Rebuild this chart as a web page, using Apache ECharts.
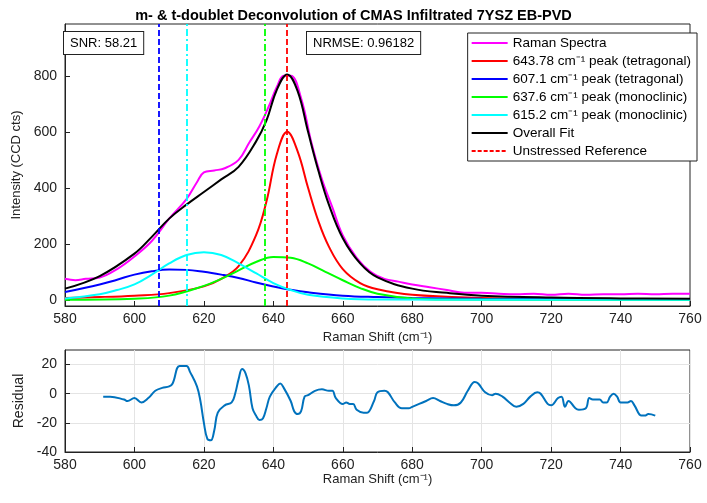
<!DOCTYPE html>
<html>
<head>
<meta charset="utf-8">
<script src="https://cdn.jsdelivr.net/npm/echarts@6/dist/echarts.min.js"></script>
<style>
  * { margin: 0; padding: 0 }
  html, body { width: 100%; height: 100%; background: #fff; }
  #main { width: 707px; height: 503px; }
</style>
</head>
<body>
<div id="main"></div>
<script type="text/javascript">
    // curves as [shift, value]
    var raman = [[580,75],[583,70],[586,75],[590,80],[595,110],[600,155],[605,210],[610,290],[615,360],[618,420],[620,455],[623,462],[626,470],[630,500],[633,560],[636,620],[639,700],[641,760],[643,800],[645,800],[648,720],[651,560],[654,430],[657,330],[660,230],[664,150],[668,100],[672,75],[676,65],[680,55],[685,45],[690,35],[695,25],[700,25],[705,22],[710,20],[715,22],[720,18],[725,22],[730,18],[735,20],[740,20],[745,22],[750,20],[755,22],[760,22]];
    var peakT644 = [[580,7],[590,10],[600,15],[610,24],[620,48],[625,75],[630,120],[635,230],[638,350],[641,520],[644,600],[647,530],[650,400],[653,280],[656,190],[660,110],[665,60],[670,38],[680,18],[700,7],[720,4],[760,2]];
    var peakT607 = [[580,28],[590,55],[595,72],[600,90],[605,102],[610,108],[615,107],[620,100],[625,90],[630,78],[635,62],[640,48],[645,36],[650,27],[660,15],[670,10],[680,7],[700,4],[720,3],[760,1]];
    var peakM638 = [[580,0],[600,4],[610,15],[620,50],[625,75],[630,105],[635,135],[640,153],[645,150],[650,130],[655,100],[660,70],[665,42],[670,22],[680,5],[690,1],[760,0]];
    var peakM615 = [[580,5],[590,20],[595,35],[600,55],[605,90],[610,130],[615,160],[620,170],[625,160],[630,130],[635,95],[640,60],[645,35],[650,18],[660,5],[670,1],[760,0]];
    var overallFit = [[580,40],[590,85],[600,165],[605,225],[610,290],[615,340],[620,385],[625,430],[630,475],[635,565],[638,640],[641,750],[644,805],[647,745],[650,600],[653,460],[656,340],[660,220],[665,130],[670,80],[680,40],[690,25],[700,15],[720,8],[740,5],[760,4]];
    var residual = [[591,-2],[593,-2],[597,-4],[598,-5],[600,-3],[602,-6],[604,-3],[606,2],[608,4],[610,5],[611,7],[613,19],[615,19],[616,15],[618,5],[619,-5],[620,-20],[621,-31],[622,-32],[623,-25],[624,-13],[626,-8],[628,-6],[629,0],[630,10],[631,17],[632,14],[633,5],[634,-10],[635,-15],[636,-18],[637,-17],[638,-10],[639,-2],[641,5],[642,7],[643,4],[645,-5],[646,-12],[647,-14],[648,-12],[649,-2],[650,-1],[652,2],[654,3],[656,2],[657,2],[658,-3],[660,-7],[661,-6],[662,-7],[663,-7],[664,-11],[666,-13],[667,-13],[669,-5],[670,1],[672,2],[673,1],[675,-6],[677,-10],[679,-10],[680,-9],[682,-7],[684,-5],[686,-3],[688,-5],[690,-7],[692,-8],[694,-6],[696,2],[698,8],[699,7],[701,1],[703,-1],[704,0],[706,-2],[708,-6],[710,-9],[712,-7],[714,-2],[716,1],[717,0],[719,-7],[720,-8],[722,-3],[723,-2],[724,-9],[725,-5],[727,-10],[728,-11],[730,-10],[731,-3],[732,-4],[734,-4],[735,-6],[736,-6],[737,-2],[738,0],[739,-2],[740,-6],[742,-6],[743,-5],[744,-8],[746,-15],[747,-15],[748,-14],[750,-15]];
    var xTicks = [580, 600, 620, 640, 660, 680, 700, 720, 740, 760];
    var yTicksTop = [0, 200, 400, 600, 800];
    var yTicksRes = [-40, -20, 0, 20];
    var peakPositions = [607.1, 615.2, 637.6, 643.78];

    var font = 'Liberation Sans, Arial, sans-serif';

    function xAxisOf(gi) {
        return {
            type: 'value', gridIndex: gi, min: 580, max: 760,
            name: 'Raman Shift (cm⁻¹)', nameLocation: 'middle', nameGap: 20,
            nameTextStyle: {fontFamily: font, fontSize: 13, color: '#222'},
            axisLine: {onZero: false, lineStyle: {color: '#222'}},
            axisTick: {inside: true, customValues: xTicks, length: 5},
            axisLabel: {customValues: xTicks, fontFamily: font, fontSize: 14, color: '#222', margin: 6},
            splitLine: {show: gi === 1, lineStyle: {color: '#e4e4e4'}}
        };
    }

    function vline(x, color, type) {
        return {
            type: 'line', xAxisIndex: 0, yAxisIndex: 0, data: [], silent: true,
            markLine: {symbol: 'none', silent: true, label: {show: false},
                lineStyle: {color: color, type: type, width: 1.8},
                data: [{xAxis: x}]}
        };
    }

    function curve(name, data, color) {
        return {
            name: name, type: 'line', data: data, smooth: 0.4, symbol: 'none',
            xAxisIndex: 0, yAxisIndex: 0,
            lineStyle: {color: color, width: 2}, itemStyle: {color: color}
        };
    }

    var chart = echarts.init(document.getElementById('main'));
    var dashDot = [7, 3, 2, 3];
    var series = [
        vline(peakPositions[0], '#0000ff', [6, 3]),
        vline(peakPositions[1], '#00ffff', dashDot),
        vline(peakPositions[2], '#00ff00', dashDot),
        curve('Raman Spectra', raman, '#ff00ff'),
        curve('643.78 cm⁻¹ peak (tetragonal)', peakT644, '#ff0000'),
        curve('607.1 cm⁻¹ peak (tetragonal)', peakT607, '#0000ff'),
        curve('637.6 cm⁻¹ peak (monoclinic)', peakM638, '#00ff00'),
        curve('615.2 cm⁻¹ peak (monoclinic)', peakM615, '#00ffff'),
        curve('Overall Fit', overallFit, '#000000'),
        {
            name: 'Unstressed Reference', type: 'line', data: [], symbol: 'none',
            xAxisIndex: 0, yAxisIndex: 0,
            lineStyle: {color: '#ff0000', type: [4, 2], width: 2}, itemStyle: {color: '#ff0000'},
            markLine: {symbol: 'none', silent: true, label: {show: false},
                lineStyle: {color: '#ff0000', type: [6, 3], width: 1.8},
                data: [{xAxis: peakPositions[3]}]}
        },
        {
            type: 'line', data: residual, smooth: 0.4, symbol: 'none',
            xAxisIndex: 1, yAxisIndex: 1,
            lineStyle: {color: '#0072bd', width: 2}
        }
    ];

    chart.setOption({
        animation: false,
        title: {
            text: 'm- & t-doublet Deconvolution of CMAS Infiltrated 7YSZ EB-PVD',
            left: 'center', top: 3,
            textStyle: {fontFamily: font, fontSize: 14.5, fontWeight: 'bold', color: '#000'}
        },
        grid: [
            {left: 65, right: 17, top: 24, height: 282, show: true, borderColor: '#222', borderWidth: 1},
            {left: 65, right: 17, top: 350, height: 102, show: true, borderColor: '#222', borderWidth: 1}
        ],
        legend: {
            right: 10, top: 33, orient: 'vertical', itemGap: 4, itemWidth: 36, itemHeight: 14,
            backgroundColor: '#fff', borderColor: '#222', borderWidth: 1, padding: [3, 6, 3, 3],
            itemStyle: {opacity: 0},
            textStyle: {fontFamily: font, fontSize: 13.5, color: '#000'},
            data: ['Raman Spectra', '643.78 cm⁻¹ peak (tetragonal)', '607.1 cm⁻¹ peak (tetragonal)',
                '637.6 cm⁻¹ peak (monoclinic)', '615.2 cm⁻¹ peak (monoclinic)', 'Overall Fit', 'Unstressed Reference']
        },
        xAxis: [xAxisOf(0), xAxisOf(1)],
        yAxis: [
            {
                type: 'value', gridIndex: 0, min: -22, max: 985,
                name: 'Intensity (CCD cts)', nameLocation: 'middle', nameGap: 40,
                nameTextStyle: {fontFamily: font, fontSize: 13, color: '#222'},
                axisLine: {show: true, lineStyle: {color: '#222'}},
                axisTick: {inside: true, customValues: yTicksTop, length: 5},
                axisLabel: {customValues: yTicksTop, fontFamily: font, fontSize: 14, color: '#222'},
                splitLine: {show: false}
            },
            {
                type: 'value', gridIndex: 1, min: -40, max: 30,
                name: 'Residual', nameLocation: 'middle', nameGap: 30,
                nameTextStyle: {fontFamily: font, fontSize: 14, color: '#222'},
                axisLine: {show: true, lineStyle: {color: '#222'}},
                axisTick: {inside: true, customValues: yTicksRes, length: 5},
                axisLabel: {customValues: yTicksRes, fontFamily: font, fontSize: 14, color: '#222'},
                splitLine: {show: true, lineStyle: {color: '#e4e4e4'}}
            }
        ],
        graphic: [
            {type: 'text', left: 63, top: 31, z: 100, style: {text: 'SNR: 58.21', font: '13px ' + font, fill: '#000',
                backgroundColor: '#fff', borderColor: '#222', borderWidth: 1, padding: [5, 6, 4, 6]}},
            {type: 'text', left: 306, top: 31, z: 100, style: {text: 'NRMSE: 0.96182', font: '13px ' + font, fill: '#000',
                backgroundColor: '#fff', borderColor: '#222', borderWidth: 1, padding: [5, 6, 4, 6]}}
        ],
        series: series
    });
</script>
</body>
</html>
